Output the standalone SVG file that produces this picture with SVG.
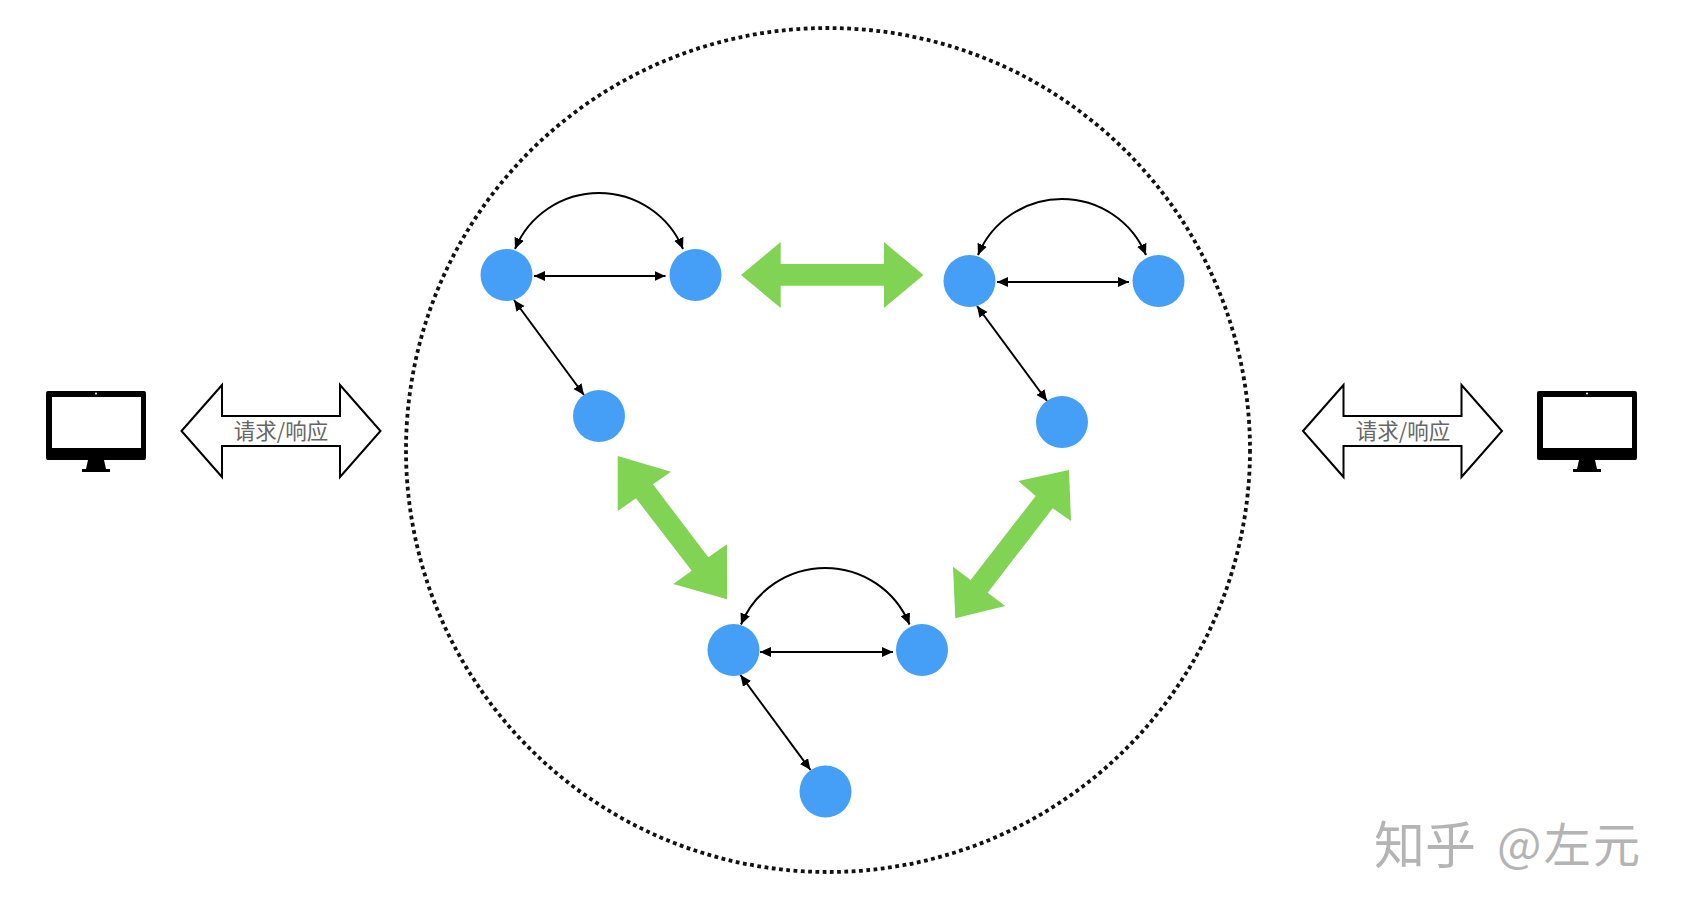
<svg xmlns="http://www.w3.org/2000/svg" width="1682" height="914" viewBox="0 0 1682 914">
<style>
.n{fill:#459ff7}
.g{fill:#80d353}
.c{fill:none;stroke:#000;stroke-width:2;marker-start:url(#a);marker-end:url(#a)}
.h{fill:#fff;stroke:#000;stroke-width:2}
.t{font:21.5px "Noto Sans CJK SC","Liberation Sans",sans-serif;fill:#666;text-anchor:middle}
.w{font-family:"Noto Sans CJK SC","Liberation Sans",sans-serif;fill:#b4b4b4}
</style>
<defs>
<marker id="a" markerUnits="userSpaceOnUse" markerWidth="13" markerHeight="11" refX="11" refY="5" orient="auto-start-reverse"><path d="M0 0L11 5L0 10z"/></marker>
</defs>
<rect width="1682" height="914" fill="#fff"/>
<circle id="boundary" cx="828" cy="450" r="422" fill="none" stroke="#111" stroke-width="3.8" stroke-dasharray="3.8 3.5"/>
<g id="connectors">
<path class="c" d="M515 249A91 91 0 0 1 683 249"/>
<path class="c" d="M534 276H665.500"/>
<path class="c" d="M514 300L584 395"/>
<path class="c" d="M978 255A91 91 0 0 1 1146 255"/>
<path class="c" d="M997 282H1129"/>
<path class="c" d="M977 306L1047 401"/>
<path class="c" d="M741 624.500A91 91 0 0 1 909.500 624.500"/>
<path class="c" d="M760 652H893"/>
<path class="c" d="M740.500 675L810.500 770"/>
</g>
<g id="link-top"><polygon class="g" points="741,275 780.700,242 780.700,264 884,264 884,242 923.500,275 884,308 884,285.700 780.700,285.700 780.700,308"/></g>
<g id="link-left"><polygon class="g" points="617.7,456 671,471.7 653,484.3 708.3,557.3 727,544.3 727,599.3 673.3,584 691.7,570.7 636,498.3 617.7,511"/></g>
<g id="link-right"><polygon class="g" points="1069,470 1071,521 1052.7,508.3 987.7,592.7 1005.3,606 955.3,618.3 953,566.7 970.7,580 1035.7,496 1018.3,481"/></g>
<g id="node-a1"><circle class="n" cx="506.5" cy="275" r="26"/></g>
<g id="node-a2"><circle class="n" cx="695.5" cy="275" r="26"/></g>
<g id="node-a3"><circle class="n" cx="599" cy="416" r="26"/></g>
<g id="node-b1"><circle class="n" cx="969.5" cy="281" r="26"/></g>
<g id="node-b2"><circle class="n" cx="1158.5" cy="281" r="26"/></g>
<g id="node-b3"><circle class="n" cx="1062" cy="422" r="26"/></g>
<g id="node-c1"><circle class="n" cx="733.500" cy="650" r="26"/></g>
<g id="node-c2"><circle class="n" cx="922" cy="650" r="26"/></g>
<g id="node-c3"><circle class="n" cx="825.5" cy="791.500" r="26"/></g>
<g id="client-left">
<path fill-rule="evenodd" d="M48 391H144a2 2 0 0 1 2 2V458a2 2 0 0 1 -2 2H48a2 2 0 0 1 -2 -2V393a2 2 0 0 1 2 -2zM52 397V448H141V397z"/>
<path d="M88 460H104L106 469H110V472H82V469H86z"/>
<circle cx="96" cy="393.5" r="1" fill="#fff"/>
</g>
<g id="client-right" transform="translate(1491 0)">
<path fill-rule="evenodd" d="M48 391H144a2 2 0 0 1 2 2V458a2 2 0 0 1 -2 2H48a2 2 0 0 1 -2 -2V393a2 2 0 0 1 2 -2zM52 397V448H141V397z"/>
<path d="M88 460H104L106 469H110V472H82V469H86z"/>
<circle cx="96" cy="393.5" r="1" fill="#fff"/>
</g>
<g id="req-left">
<polygon class="h" points="181.500,431 222,385 222,416 340,416 340,385 380.500,431 340,477 340,446 222,446 222,477"/>
<text class="t" x="281" y="439">请求/响应</text>
</g>
<g id="req-right">
<polygon class="h" points="1303,431 1343.500,385 1343.500,416 1461.500,416 1461.500,385 1502,431 1461.500,477 1461.500,446 1343.500,446 1343.500,477"/>
<text class="t" x="1403" y="439">请求/响应</text>
</g>
<text class="w" font-size="51" x="1374" y="864">知乎</text>
<text class="w" font-size="47" x="1497" y="862" textLength="143">@左元</text>
</svg>
